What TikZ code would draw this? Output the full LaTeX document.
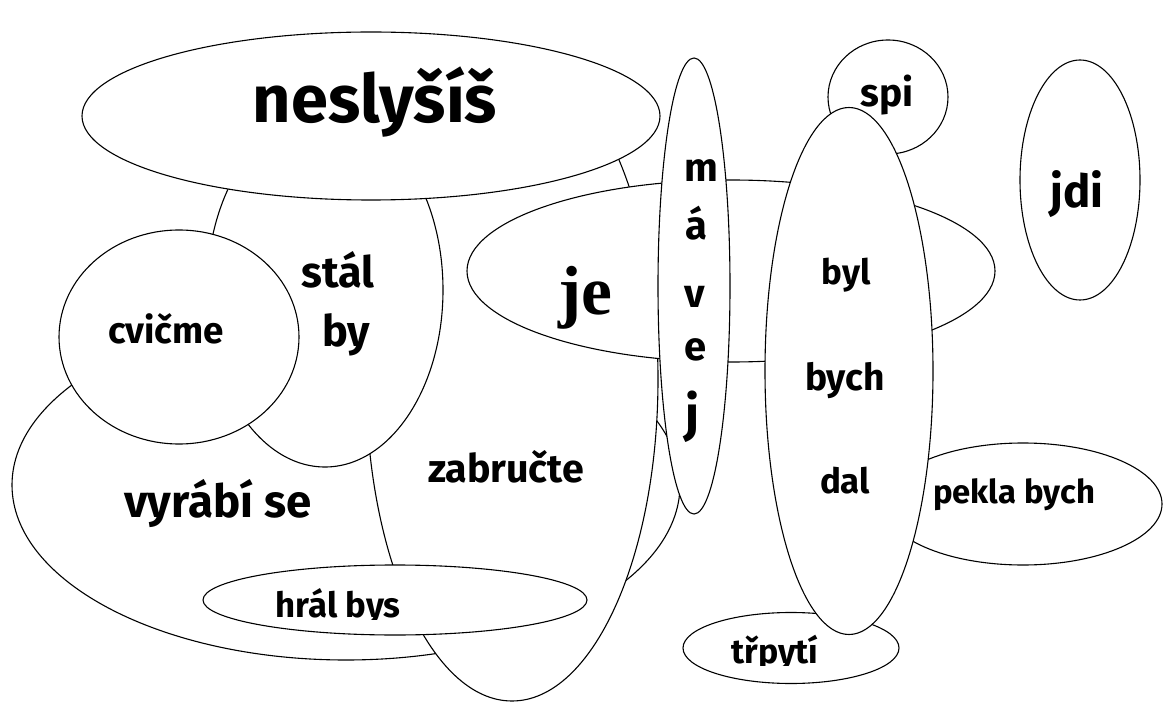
\documentclass[tikz,border=0pt]{standalone}
\usepackage{fontspec}
\setmainfont{Fira Sans}
\newfontfamily\jefont{Liberation Serif}
\usetikzlibrary{shapes.geometric}
\newcommand{\wtxt}[2]{\resizebox{#1pt}{!}{#2}}
\tikzset{
  blob/.style={ellipse, draw, fill=white, line width=1.1pt, inner sep=0pt},
  txt/.style={anchor=base, inner sep=0pt, font=\bfseries\fontsize{30}{30}\selectfont},
  letter/.style={anchor=base, inner sep=0pt, font=\bfseries\fontsize{40}{40}\selectfont},
}
\begin{document}
\begin{tikzpicture}[x=1pt,y=-1pt]
\fill[white] (0,0) rectangle (1165,703);
\useasboundingbox (0,0) rectangle (1165,703);
% vyrabi se
\node[blob, minimum width=668pt, minimum height=350pt] (vyr) at (346,485) {};
\node[txt] (tvyr) at (218,517) {\wtxt{187}{vyrábí se}};
% zabructe
\node[blob, minimum width=292pt, minimum height=644pt] (zab) at (512,379) {};
\node[txt] (tzab) at (506,482) {\wtxt{156}{zabručte}};
% stal by
\node[blob, minimum width=236pt, minimum height=354pt] (stal) at (325,290) {};
\node[txt] (tstal) at (338,288) {\wtxt{73}{stál}};
\node[txt] (tby) at (346,347) {\wtxt{48}{by}};
% neslysis
\node[blob, minimum width=578pt, minimum height=168pt] (nes) at (371,116) {};
\node[txt] (tnes) at (375,123) {\wtxt{244}{neslyšíš}};
% cvicme
\node[blob, minimum width=240pt, minimum height=214pt] (cvi) at (179,337) {};
\node[txt] (tcvi) at (166,343) {\wtxt{116}{cvičme}};
% je
\node[blob, minimum width=528pt, minimum height=182pt] (je) at (731,271) {};
\node[txt, font=\jefont\bfseries\fontsize{30}{30}\selectfont] (tje) at (585,315) {\wtxt{54}{je}};
% mavej
\node[blob, minimum width=72pt, minimum height=456pt] (mav) at (694,286) {};
\node[letter] (lm) at (701,182) {m};
\node[letter] (la) at (696,240) {á};
\node[letter] (lv) at (695,308) {v};
\node[letter] (le) at (696,360) {e};
\node[letter, font=\bfseries\fontsize{50}{50}\selectfont] (lj) at (693,431) {j};
% hral bys
\node[blob, minimum width=384pt, minimum height=70pt] (hra) at (395,600) {};
\begin{scope}
\clip (200,560) rectangle (600,619);
\node[txt] (thra) at (338,617) {\wtxt{125}{hrál bys}};
\end{scope}
% spi
\node[blob, minimum width=120pt, minimum height=114pt] (spi) at (888,97) {};
\node[txt] (tspi) at (887,107) {\wtxt{53}{spi}};
% pekla bych
\node[blob, minimum width=278pt, minimum height=122pt] (pek) at (1023,504) {};
\node[txt] (tpek) at (1014,503) {\wtxt{162}{pekla bych}};
% trpyti
\node[blob, minimum width=216pt, minimum height=71pt] (trp) at (791,648) {};
\begin{scope}
\clip (680,610) rectangle (900,665);
\node[txt] (ttrp) at (775,663) {\wtxt{87}{třpytí}};
\end{scope}
% jdi
\node[blob, minimum width=120pt, minimum height=240pt] (jdi) at (1080,180) {};
\node[txt] (tjdi) at (1077,208) {\wtxt{53}{jdi}};
% byl bych dal
\node[blob, minimum width=168pt, minimum height=527pt] (byl) at (849,371) {};
\node[txt] (tbyl) at (846,285) {\wtxt{49}{byl}};
\node[txt] (tbych) at (845,391) {\wtxt{80}{bych}};
\node[txt] (tdal) at (845,493) {\wtxt{50}{dal}};
\end{tikzpicture}
\end{document}
